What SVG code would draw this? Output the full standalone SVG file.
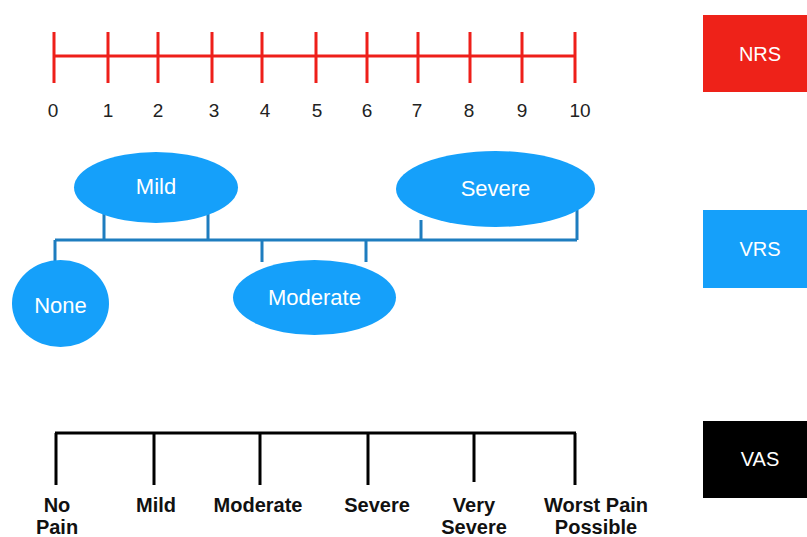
<svg xmlns="http://www.w3.org/2000/svg" width="807" height="537" viewBox="0 0 807 537">
<style>
.nrs{stroke:#ee1f1a;stroke-width:3;fill:none}
.num{font-family:"Liberation Sans",Arial,sans-serif;font-size:19px;fill:#222;text-anchor:middle}
.ell{fill:#15a0fa}
.elt{font-family:"Liberation Sans",Arial,sans-serif;font-size:22px;fill:#fff;text-anchor:middle}
.vrs{stroke:#1e7dbf;stroke-width:3;fill:none}
.vas{stroke:#000;stroke-width:3;fill:none}
.vat{font-family:"Liberation Sans",Arial,sans-serif;font-size:20px;font-weight:bold;fill:#111;text-anchor:middle}
.boxt{font-family:"Liberation Sans",Arial,sans-serif;font-size:20px;fill:#fff;text-anchor:middle}
</style>
<rect width="807" height="537" fill="#fff"/>

<g id="nrs-scale">
<path class="nrs" d="M54 56H575 M54 32V83 M108 32V83 M158 32V83 M212 32V83 M262 32V83 M316 32V83 M367 32V83 M418 32V83 M470 32V83 M522 32V83 M575 32V83"/>
<text class="num" x="53" y="117">0</text>
<text class="num" x="108" y="117">1</text>
<text class="num" x="158" y="117">2</text>
<text class="num" x="214" y="117">3</text>
<text class="num" x="265" y="117">4</text>
<text class="num" x="317" y="117">5</text>
<text class="num" x="367" y="117">6</text>
<text class="num" x="417" y="117">7</text>
<text class="num" x="469" y="117">8</text>
<text class="num" x="522" y="117">9</text>
<text class="num" x="580" y="117">10</text>
</g>

<g id="connectors">
<path class="vrs" d="M55 240H577 M55 240V262 M104 240V214 M208 240V214 M262 240V262 M366 240V262 M421 240V220 M577 240V210"/>
</g>

<g id="node-none"><ellipse class="ell" cx="60.5" cy="303.5" rx="48.5" ry="43.5"/><text class="elt" x="60.5" y="313">None</text></g>
<g id="node-mild"><ellipse class="ell" cx="156" cy="187.5" rx="82" ry="35.5"/><text class="elt" x="156" y="194">Mild</text></g>
<g id="node-moderate"><ellipse class="ell" cx="314.5" cy="297.5" rx="81.5" ry="37.5"/><text class="elt" x="314.5" y="305">Moderate</text></g>
<g id="node-severe"><ellipse class="ell" cx="495.5" cy="189" rx="99.5" ry="38"/><text class="elt" x="495.5" y="196">Severe</text></g>

<g id="vas-scale">
<path class="vas" d="M55 433H576 M56 433V485 M154 433V485 M260 433V485 M368 433V485 M474 433V482 M575 433V485"/>
<text class="vat" x="57" y="512">No</text>
<text class="vat" x="57" y="534">Pain</text>
<text class="vat" x="156" y="512">Mild</text>
<text class="vat" x="258" y="512">Moderate</text>
<text class="vat" x="377" y="512">Severe</text>
<text class="vat" x="474" y="512">Very</text>
<text class="vat" x="474" y="534">Severe</text>
<text class="vat" x="596" y="512">Worst Pain</text>
<text class="vat" x="596" y="534">Possible</text>
</g>

<g id="label-nrs"><rect x="703" y="15" width="104" height="77" fill="#ee2219"/><text class="boxt" x="760" y="61">NRS</text></g>
<g id="label-vrs"><rect x="703" y="210" width="104" height="78" fill="#15a0fa"/><text class="boxt" x="760" y="256">VRS</text></g>
<g id="label-vas"><rect x="703" y="421" width="104" height="77" fill="#000"/><text class="boxt" x="760" y="466">VAS</text></g>
</svg>
